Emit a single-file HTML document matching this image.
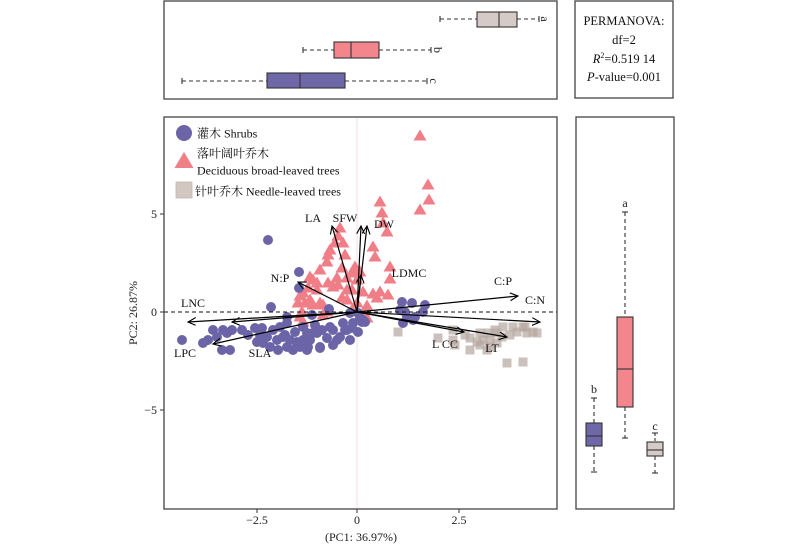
<!DOCTYPE html>
<html><head><meta charset="utf-8"><style>
html,body{margin:0;padding:0;background:#fff;}
svg{display:block;font-family:"Liberation Serif","Noto Serif CJK SC","Noto Sans CJK SC",serif;}
</style></head><body>
<svg width="800" height="545" viewBox="0 0 800 545" xmlns="http://www.w3.org/2000/svg">
<defs>
<marker id="ah" markerWidth="12" markerHeight="12" refX="8" refY="4" orient="auto" markerUnits="userSpaceOnUse"><path d="M0,0 L8,4 L0,8" fill="none" stroke="#000" stroke-width="1.1"/></marker>
<path id="tri" d="M0,-6.5 L6.5,4.5 L-6.5,4.5 Z"/>
</defs>
<rect width="800" height="545" fill="#fff"/>

<!-- TOP PANEL -->
<rect x="164" y="1" width="393" height="98" fill="none" stroke="#444" stroke-width="1.3"/>
<g stroke="#333" stroke-width="1.1">
 <line x1="440" y1="19" x2="477" y2="19" stroke-dasharray="4,3"/>
 <line x1="517" y1="19" x2="539" y2="19" stroke-dasharray="4,3"/>
 <line x1="440" y1="16" x2="440" y2="22"/><line x1="539" y1="16" x2="539" y2="22"/>
 <rect x="477" y="12" width="40" height="15" fill="#d6cac6"/>
 <line x1="499" y1="12" x2="499" y2="27"/>
 <line x1="303" y1="50" x2="334" y2="50" stroke-dasharray="4,3"/>
 <line x1="379" y1="50" x2="431" y2="50" stroke-dasharray="4,3"/>
 <line x1="303" y1="47" x2="303" y2="53"/><line x1="431" y1="47" x2="431" y2="53"/>
 <rect x="334" y="42" width="45" height="16" fill="#f2868c"/>
 <line x1="351" y1="42" x2="351" y2="58"/>
 <line x1="182" y1="81" x2="267" y2="81" stroke-dasharray="4,3"/>
 <line x1="345" y1="81" x2="427" y2="81" stroke-dasharray="4,3"/>
 <line x1="182" y1="78" x2="182" y2="84"/><line x1="427" y1="78" x2="427" y2="84"/>
 <rect x="267" y="73" width="78" height="15" fill="#6e68a8"/>
 <line x1="300" y1="73" x2="300" y2="88"/>
</g>
<g font-size="12" fill="#222">
 <text x="545" y="19" transform="rotate(90 545 19)" text-anchor="middle" dominant-baseline="central">a</text>
 <text x="438" y="50" transform="rotate(90 438 50)" text-anchor="middle" dominant-baseline="central">b</text>
 <text x="434" y="81" transform="rotate(90 434 81)" text-anchor="middle" dominant-baseline="central">c</text>
</g>

<!-- PERMANOVA -->
<rect x="575" y="1" width="98" height="97" fill="none" stroke="#444" stroke-width="1.3"/>
<g font-size="12.5" fill="#111" text-anchor="middle">
 <text x="624" y="25">PERMANOVA:</text>
 <text x="624" y="44">df=2</text>
 <text x="624" y="63"><tspan font-style="italic">R</tspan><tspan font-size="8" dy="-5">2</tspan><tspan dy="5">=0.519 14</tspan></text>
 <text x="624" y="81"><tspan font-style="italic">P</tspan>-value=0.001</text>
</g>

<!-- MAIN PANEL -->
<line x1="357" y1="118" x2="357" y2="508" stroke="#f4e6e6" stroke-width="1.2"/>

<!-- triangles -->
<g fill="#f07e87">
<use href="#tri" x="420" y="136"/><use href="#tri" x="428" y="185"/><use href="#tri" x="429" y="200"/><use href="#tri" x="420" y="210"/><use href="#tri" x="380" y="202"/><use href="#tri" x="382" y="213"/><use href="#tri" x="383" y="223"/><use href="#tri" x="387" y="232"/><use href="#tri" x="340" y="228"/><use href="#tri" x="338" y="236"/><use href="#tri" x="335" y="243"/><use href="#tri" x="328" y="255"/><use href="#tri" x="327" y="262"/><use href="#tri" x="373" y="247"/><use href="#tri" x="375" y="257"/><use href="#tri" x="355" y="267"/><use href="#tri" x="352" y="273"/><use href="#tri" x="342" y="268"/><use href="#tri" x="337" y="278"/><use href="#tri" x="347" y="278"/><use href="#tri" x="360" y="272"/><use href="#tri" x="357" y="280"/><use href="#tri" x="390" y="267"/><use href="#tri" x="390" y="279"/><use href="#tri" x="338" y="285"/><use href="#tri" x="320" y="270"/><use href="#tri" x="313" y="280"/><use href="#tri" x="308" y="288"/><use href="#tri" x="303" y="293"/><use href="#tri" x="300" y="296"/><use href="#tri" x="310" y="300"/><use href="#tri" x="298" y="303"/><use href="#tri" x="363" y="292"/><use href="#tri" x="373" y="294"/><use href="#tri" x="380" y="292"/><use href="#tri" x="388" y="295"/><use href="#tri" x="377" y="298"/><use href="#tri" x="347" y="290"/><use href="#tri" x="352" y="290"/><use href="#tri" x="367" y="306"/><use href="#tri" x="357" y="303"/><use href="#tri" x="347" y="300"/><use href="#tri" x="363" y="318"/><use href="#tri" x="352" y="310"/><use href="#tri" x="323" y="305"/><use href="#tri" x="327" y="312"/><use href="#tri" x="300" y="317"/><use href="#tri" x="320" y="303"/><use href="#tri" x="302" y="312"/><use href="#tri" x="317" y="283"/><use href="#tri" x="333" y="287"/><use href="#tri" x="313" y="305"/><use href="#tri" x="342" y="298"/><use href="#tri" x="303" y="322"/><use href="#tri" x="323" y="315"/><use href="#tri" x="305" y="303"/><use href="#tri" x="328" y="283"/><use href="#tri" x="343" y="243"/><use href="#tri" x="353" y="273"/><use href="#tri" x="310" y="277"/><use href="#tri" x="317" y="290"/><use href="#tri" x="330" y="250"/><use href="#tri" x="345" y="255"/><use href="#tri" x="367" y="318"/>
</g>

<!-- squares -->
<g fill="#b5a69f" fill-opacity="0.7">
<rect x="393.5" y="327.5" width="9" height="9"/><rect x="433.5" y="333.5" width="9" height="9"/><rect x="448.5" y="325.5" width="9" height="9"/><rect x="450.5" y="340.5" width="9" height="9"/><rect x="460.5" y="330.5" width="9" height="9"/><rect x="465.5" y="333.5" width="9" height="9"/><rect x="465.5" y="345.5" width="9" height="9"/><rect x="472.5" y="337.5" width="9" height="9"/><rect x="475.5" y="328.5" width="9" height="9"/><rect x="475.5" y="340.5" width="9" height="9"/><rect x="478.5" y="335.5" width="9" height="9"/><rect x="483.5" y="328.5" width="9" height="9"/><rect x="485.5" y="335.5" width="9" height="9"/><rect x="485.5" y="342.5" width="9" height="9"/><rect x="482.5" y="345.5" width="9" height="9"/><rect x="490.5" y="325.5" width="9" height="9"/><rect x="492.5" y="338.5" width="9" height="9"/><rect x="497.5" y="332.5" width="9" height="9"/><rect x="498.5" y="322.5" width="9" height="9"/><rect x="505.5" y="330.5" width="9" height="9"/><rect x="508.5" y="322.5" width="9" height="9"/><rect x="512.5" y="327.5" width="9" height="9"/><rect x="518.5" y="322.5" width="9" height="9"/><rect x="520.5" y="322.5" width="9" height="9"/><rect x="522.5" y="328.5" width="9" height="9"/><rect x="528.5" y="327.5" width="9" height="9"/><rect x="532.5" y="328.5" width="9" height="9"/><rect x="502.5" y="358.5" width="9" height="9"/><rect x="518.5" y="357.5" width="9" height="9"/><rect x="448.5" y="335.5" width="9" height="9"/><rect x="492.5" y="328.5" width="9" height="9"/>
</g>

<!-- circles -->
<g fill="#6b65a8">
<circle cx="268" cy="240" r="5"/><circle cx="299" cy="272" r="5"/><circle cx="299" cy="288" r="5"/><circle cx="271" cy="307" r="5"/><circle cx="329" cy="309" r="5"/><circle cx="287" cy="317" r="5"/><circle cx="312" cy="315" r="5"/>
<circle cx="182" cy="340" r="5"/><circle cx="203" cy="343" r="5"/><circle cx="208" cy="340" r="5"/><circle cx="213" cy="330" r="5"/><circle cx="223" cy="330" r="5"/><circle cx="227" cy="333" r="5"/><circle cx="232" cy="330" r="5"/><circle cx="242" cy="330" r="5"/><circle cx="222" cy="350" r="5"/><circle cx="230" cy="350" r="5"/>
<circle cx="255" cy="328" r="5"/><circle cx="262" cy="328" r="5"/><circle cx="257" cy="342" r="5"/><circle cx="267" cy="337" r="5"/><circle cx="270" cy="347" r="5"/><circle cx="278" cy="350" r="5"/><circle cx="287" cy="347" r="5"/><circle cx="293" cy="350" r="5"/><circle cx="300" cy="347" r="5"/><circle cx="307" cy="350" r="5"/><circle cx="310" cy="340" r="5"/><circle cx="317" cy="333" r="5"/><circle cx="327" cy="338" r="5"/><circle cx="333" cy="345" r="5"/><circle cx="340" cy="337" r="5"/><circle cx="345" cy="330" r="5"/><circle cx="352" cy="328" r="5"/><circle cx="358" cy="332" r="5"/>
<circle cx="273" cy="330" r="5"/><circle cx="280" cy="327" r="5"/><circle cx="287" cy="323" r="5"/><circle cx="295" cy="332" r="5"/><circle cx="303" cy="327" r="5"/><circle cx="307" cy="333" r="5"/><circle cx="315" cy="325" r="5"/><circle cx="322" cy="330" r="5"/><circle cx="330" cy="327" r="5"/><circle cx="333" cy="330" r="5"/><circle cx="277" cy="340" r="5"/><circle cx="285" cy="335" r="5"/><circle cx="297" cy="342" r="5"/><circle cx="303" cy="340" r="5"/><circle cx="320" cy="347" r="5"/><circle cx="343" cy="323" r="5"/>
<circle cx="217" cy="337" r="5"/><circle cx="283" cy="337" r="5"/><circle cx="290" cy="340" r="5"/><circle cx="297" cy="343" r="5"/><circle cx="308" cy="347" r="5"/><circle cx="320" cy="348" r="5"/><circle cx="337" cy="340" r="5"/><circle cx="350" cy="340" r="5"/><circle cx="347" cy="330" r="5"/><circle cx="353" cy="323" r="5"/><circle cx="360" cy="318" r="5"/><circle cx="363" cy="320" r="5"/><circle cx="362" cy="322" r="5"/><circle cx="350" cy="313" r="5"/><circle cx="358" cy="313" r="5"/><circle cx="365" cy="322" r="5"/><circle cx="263" cy="343" r="5"/><circle cx="313" cy="333" r="5"/><circle cx="260" cy="335" r="5"/><circle cx="248" cy="335" r="5"/>
<circle cx="402" cy="302" r="5"/><circle cx="412" cy="303" r="5"/><circle cx="425" cy="305" r="5"/><circle cx="400" cy="310" r="5"/><circle cx="405" cy="312" r="5"/><circle cx="415" cy="317" r="5"/><circle cx="423" cy="312" r="5"/><circle cx="403" cy="323" r="5"/><circle cx="413" cy="320" r="5"/><circle cx="407" cy="317" r="5"/>
</g>

<!-- dashed zero line -->
<line x1="164" y1="312" x2="557" y2="312" stroke="#111" stroke-width="1" stroke-dasharray="4,3"/>

<!-- arrows -->
<g stroke="#000" stroke-width="1.2" marker-end="url(#ah)">
 <line x1="357" y1="312" x2="188" y2="322"/>
 <line x1="357" y1="312" x2="232" y2="322"/>
 <line x1="357" y1="312" x2="213" y2="344"/>
 <line x1="357" y1="312" x2="298" y2="282"/>
 <line x1="357" y1="312" x2="332" y2="226"/>
 <line x1="357" y1="312" x2="361" y2="226"/>
 <line x1="357" y1="312" x2="367" y2="226"/>
 <line x1="357" y1="312" x2="361" y2="275"/>
 <line x1="357" y1="312" x2="518" y2="296"/>
 <line x1="357" y1="312" x2="540" y2="322"/>
 <line x1="357" y1="312" x2="464" y2="332"/>
 <line x1="357" y1="312" x2="507" y2="337"/>
</g>

<!-- arrow labels -->
<g font-size="12" fill="#111" text-anchor="middle">
 <text x="313" y="222">LA</text>
 <text x="345" y="222">SFW</text>
 <text x="384" y="228">DW</text>
 <text x="409" y="277">LDMC</text>
 <text x="503" y="285">C:P</text>
 <text x="535" y="304">C:N</text>
 <text x="445" y="348">L CC</text>
 <text x="492" y="352">LT</text>
 <text x="193" y="307">LNC</text>
 <text x="185" y="357">LPC</text>
 <text x="260" y="357">SLA</text>
 <text x="280" y="282">N:P</text>
</g>

<!-- legend -->
<circle cx="184" cy="133" r="8" fill="#6b65a8"/>
<path d="M184,152 L193.5,168 L174.5,168 Z" fill="#f07e87"/>
<rect x="176" y="182" width="16" height="16" fill="#d3c7c2" stroke="#c2b4ae" stroke-width="0.8"/>
<g font-size="12" fill="#111">
 <text x="197" y="137.5">灌木 Shrubs</text>
 <text x="197" y="157.5">落叶阔叶乔木</text>
 <text x="197" y="174.5">Deciduous broad-leaved trees</text>
 <text x="195" y="195.5">针叶乔木 Needle-leaved  trees</text>
</g>

<rect x="164" y="117" width="393" height="392" fill="none" stroke="#444" stroke-width="1.3"/>

<!-- axes ticks -->
<g stroke="#444" stroke-width="1.1">
 <line x1="160" y1="214" x2="164" y2="214"/>
 <line x1="160" y1="312" x2="164" y2="312"/>
 <line x1="160" y1="410" x2="164" y2="410"/>
 <line x1="257" y1="509" x2="257" y2="513"/>
 <line x1="357" y1="509" x2="357" y2="513"/>
 <line x1="459" y1="509" x2="459" y2="513"/>
</g>
<g font-size="12" fill="#222">
 <text x="157" y="218" text-anchor="end">5</text>
 <text x="157" y="316" text-anchor="end">0</text>
 <text x="157" y="414" text-anchor="end">−5</text>
 <text x="257" y="524" text-anchor="middle">−2.5</text>
 <text x="357" y="524" text-anchor="middle">0</text>
 <text x="459" y="524" text-anchor="middle">2.5</text>
 <text x="361" y="541" text-anchor="middle">(PC1: 36.97%)</text>
 <text x="137" y="313" text-anchor="middle" transform="rotate(-90 137 313)">PC2: 26.87%</text>
</g>

<!-- RIGHT PANEL -->
<rect x="576" y="117" width="98" height="392" fill="none" stroke="#444" stroke-width="1.3"/>
<g stroke="#333" stroke-width="1.1">
 <line x1="594" y1="398" x2="594" y2="423" stroke-dasharray="4,3"/>
 <line x1="594" y1="446" x2="594" y2="472" stroke-dasharray="4,3"/>
 <line x1="591" y1="398" x2="597" y2="398"/><line x1="591" y1="472" x2="597" y2="472"/>
 <rect x="586" y="423" width="16" height="23" fill="#6e68a8"/>
 <line x1="586" y1="436" x2="602" y2="436"/>
 <line x1="625" y1="212" x2="625" y2="317" stroke-dasharray="4,3"/>
 <line x1="625" y1="407" x2="625" y2="438" stroke-dasharray="4,3"/>
 <line x1="622" y1="212" x2="628" y2="212"/><line x1="622" y1="438" x2="628" y2="438"/>
 <rect x="617" y="317" width="16" height="90" fill="#f2868c"/>
 <line x1="617" y1="369" x2="633" y2="369"/>
 <line x1="655" y1="433" x2="655" y2="442" stroke-dasharray="3,2"/>
 <line x1="655" y1="456" x2="655" y2="473" stroke-dasharray="4,3"/>
 <line x1="652" y1="433" x2="658" y2="433"/><line x1="652" y1="473" x2="658" y2="473"/>
 <rect x="647" y="442" width="16" height="14" fill="#d6cac6"/>
 <line x1="647" y1="450" x2="663" y2="450"/>
</g>
<g font-size="12" fill="#222" text-anchor="middle">
 <text x="625" y="207">a</text>
 <text x="594" y="393">b</text>
 <text x="655" y="430">c</text>
</g>
</svg>
</body></html>
